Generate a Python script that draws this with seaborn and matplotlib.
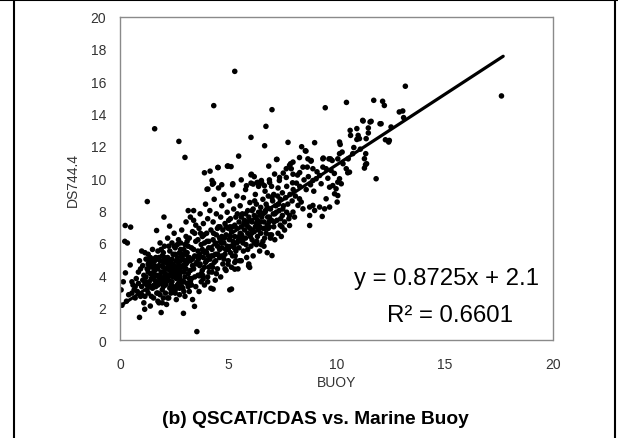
import numpy as np
import pandas as pd
import seaborn as sns
import matplotlib.pyplot as plt
from matplotlib.lines import Line2D

sns.set_theme(style="white")
plt.rcParams["font.family"] = ["Liberation Sans", "DejaVu Sans"]

# ---------------- data ----------------
# region A : BUOY 0 - 3.5
buoy_a = [0.05, 0.09, 0.22, 0.34, 0.24, 0.49, 0.25, 0.47, 0.15, 0.30,
          0.55, 0.60, 0.70, 0.75, 0.80, 0.85, 0.90, 0.95, 0.65, 0.40,
          1.0, 1.05, 1.1, 1.14, 1.2, 1.2, 1.25, 1.26, 1.3, 1.3,
          1.35, 1.4, 1.4, 1.45, 1.5, 1.5, 1.55, 1.6, 1.6, 1.6,
          1.65, 1.69, 1.7, 1.7, 1.75, 1.75, 1.8, 1.8, 1.85, 1.85,
          1.9, 1.9, 1.95, 1.95, 2.0, 2.0, 2.03, 2.05, 2.05, 2.1,
          2.1, 2.15, 2.15, 2.2, 2.2, 2.25, 2.29, 2.3, 2.3, 2.35,
          2.35, 2.4, 2.4, 2.45, 2.45, 2.5, 2.5, 2.5, 2.55, 2.55,
          2.6, 2.6, 2.65, 2.65, 2.7, 2.7, 2.72, 2.75, 2.75, 2.8,
          2.8, 2.85, 2.85, 2.9, 2.9, 2.93, 2.95, 3.0, 3.0, 3.0,
          3.05, 3.05, 3.1, 3.1, 3.15, 3.15, 3.2, 3.2, 3.25, 3.25,
          3.3, 3.3, 3.35, 3.35, 3.4, 3.4, 3.44, 3.45, 3.5, 3.5,
          3.55, 3.5,
          1.1, 1.15, 1.3, 1.4, 1.5, 1.55, 1.6, 1.7, 1.75, 1.8,
          1.85, 1.9, 1.95, 2.0, 2.0, 2.1, 2.1, 2.2, 2.2, 2.25,
          2.3, 2.35, 2.4, 2.45, 2.5, 2.55, 2.6, 2.6, 2.7, 2.7,
          2.75, 2.8, 2.85, 2.9, 2.95, 3.0, 3.0, 3.1, 3.15, 3.2,
          0.55, 0.7, 0.85, 1.0, 1.15, 1.25, 1.35, 1.45, 1.55, 1.65,
          1.75, 1.85, 1.95, 2.05, 2.15, 2.25, 2.35, 2.45, 2.55, 2.65,
          2.75, 2.85, 2.95, 3.05, 3.15, 3.25, 3.35, 3.45, 1.0, 0.9]
ds_a = [3.1, 2.15, 6.1, 6.0, 7.08, 6.98, 4.15, 4.64, 3.6, 2.4,
        2.9, 3.4, 2.6, 3.8, 3.0, 4.2, 1.4, 2.7, 3.1, 2.8,
        3.3, 4.6, 2.3, 1.9, 3.9, 5.0, 4.4, 8.56, 2.9, 5.3,
        3.6, 4.1, 2.1, 4.8, 3.2, 5.6, 2.6, 13.06, 4.3, 3.7,
        5.1, 6.77, 2.9, 4.0, 3.4, 5.5, 4.6, 2.3, 3.8, 6.0,
        4.2, 1.7, 5.2, 3.1, 4.5, 2.6, 7.6, 3.9, 5.8, 4.1,
        3.4, 5.0, 2.2, 4.7, 6.3, 3.7, 7.04, 4.3, 5.5, 2.9,
        4.9, 3.6, 6.0, 4.2, 5.3, 3.0, 4.6, 6.6, 3.9, 5.7,
        4.4, 2.5, 5.1, 3.4, 4.8, 6.2, 12.28, 4.0, 2.8, 5.6,
        3.7, 4.5, 6.8, 3.2, 5.0, 1.65, 4.2, 11.29, 5.9, 2.7,
        4.7, 7.3, 3.5, 5.4, 8.0, 4.1, 6.3, 3.0, 4.9, 7.6,
        3.8, 5.7, 2.5, 6.7, 4.4, 8.0, 2.08, 5.2, 3.3, 6.1,
        0.52, 7.1,
        4.0, 3.5, 4.7, 3.3, 4.5, 3.9, 4.9, 3.6, 4.4, 5.1,
        2.8, 3.5, 4.6, 3.3, 5.4, 2.9, 4.8, 3.9, 5.1, 4.5,
        3.2, 4.0, 5.0, 3.3, 4.1, 5.3, 3.8, 4.9, 3.5, 4.3,
        5.4, 4.2, 3.3, 4.6, 5.6, 3.9, 4.4, 4.8, 3.3, 5.1,
        3.6, 3.3, 3.5, 2.8, 2.7, 3.4, 4.5, 3.8, 4.2, 3.3,
        2.4, 4.9, 2.3, 3.6, 4.4, 2.6, 3.4, 4.7, 3.1, 4.0,
        3.2, 5.2, 3.6, 6.4, 5.8, 4.3, 4.6, 6.6, 5.5, 4.9]

# dense core of region A
buoy_core_a = [0.95, 1.05, 1.15, 1.25, 1.35, 1.45, 1.55, 1.65, 1.75, 1.85,
               1.95, 2.05, 2.15, 2.25, 2.35, 2.45, 2.55, 2.65, 2.75, 2.85,
               2.95, 3.05, 3.15, 3.25, 3.35, 3.45, 3.55, 1.2, 1.4, 1.6,
               1.8, 2.0, 2.2, 2.4, 2.6, 2.8, 3.0, 3.2, 3.4, 3.6,
               1.3, 1.5, 1.7, 1.9, 2.1, 2.3, 2.5, 2.7, 2.9, 3.1,
               3.3, 3.5, 2.0, 2.4, 2.8, 1.6, 2.2, 2.6, 3.0, 3.4]
ds_core_a = [4.4, 3.7, 5.4, 3.1, 4.9, 2.7, 5.0, 4.5, 2.9, 4.0,
             3.8, 5.1, 3.6, 5.8, 4.5, 3.9, 2.9, 5.9, 3.8, 5.3,
             3.0, 4.4, 5.1, 3.6, 5.0, 3.9, 4.8, 3.6, 5.1, 3.4,
             3.9, 4.9, 2.6, 4.4, 3.3, 6.0, 4.9, 3.8, 5.6, 5.2,
             4.2, 4.0, 5.0, 5.6, 3.8, 4.8, 5.8, 4.6, 3.6, 6.1,
             3.4, 4.7, 4.2, 3.1, 4.9, 4.6, 4.4, 4.3, 5.3, 7.4]

# region B : BUOY 3.5 - 7
buoy_b = [3.6, 3.6, 3.65, 3.65, 3.7, 3.7, 3.75, 3.75, 3.8, 3.8,
          3.85, 3.85, 3.9, 3.9, 3.95, 3.95, 4.0, 4.0, 4.05, 4.05,
          4.1, 4.1, 4.15, 4.15, 4.2, 4.2, 4.25, 4.25, 4.3, 4.3,
          4.35, 4.35, 4.4, 4.4, 4.45, 4.45, 4.5, 4.5, 4.55, 4.55,
          4.6, 4.6, 4.65, 4.65, 4.7, 4.7, 4.75, 4.75, 4.8, 4.8,
          4.85, 4.85, 4.9, 4.9, 4.95, 4.95, 5.0, 5.0, 5.05, 5.05,
          5.1, 5.1, 5.15, 5.15, 5.2, 5.2, 5.25, 5.25, 5.3, 5.3,
          5.35, 5.35, 5.4, 5.4, 5.45, 5.45, 5.5, 5.5, 5.55, 5.55,
          5.6, 5.6, 5.65, 5.65, 5.7, 5.7, 5.75, 5.75, 5.8, 5.8,
          5.85, 5.85, 5.9, 5.9, 5.95, 5.95, 6.0, 6.0, 6.05, 6.05,
          6.1, 6.1, 6.15, 6.15, 6.2, 6.2, 6.25, 6.25, 6.3, 6.3,
          6.35, 6.35, 6.4, 6.4, 6.45, 6.45, 6.5, 6.5, 6.55, 6.55,
          6.6, 6.6, 6.65, 6.65, 6.7, 6.7, 6.75, 6.75, 6.8, 6.8,
          6.85, 6.85, 6.9, 6.9, 6.95, 6.95, 7.0, 7.0, 7.02, 5.94,
          3.6, 3.7, 3.8, 3.9, 4.0, 4.1, 4.2, 4.3, 4.4, 4.5,
          4.6, 4.7, 4.8, 4.9, 5.0, 5.1, 5.2, 5.3, 5.4, 5.5,
          5.6, 5.7, 5.8, 5.9, 6.0, 6.1, 6.2, 6.3, 6.4, 6.5,
          6.6, 6.7, 6.8, 6.9, 7.0, 3.75, 4.05, 4.45, 4.85, 5.35,
          3.66, 4.3, 5.15, 3.84, 4.99, 5.3, 5.99]
ds_b = [4.0, 5.5, 6.9, 3.0, 4.7, 7.8, 5.9, 3.6, 6.4, 4.3,
        5.1, 7.2, 3.4, 6.0, 4.8, 8.4, 5.4, 6.6, 3.9, 7.5,
        4.5, 6.1, 5.0, 8.0, 3.2, 6.8, 5.6, 4.2, 7.3, 6.2,
        4.8, 8.7, 5.3, 3.7, 6.5, 7.8, 4.4, 5.8, 7.0, 9.4,
        5.1, 6.3, 3.9, 7.6, 5.7, 8.3, 4.7, 6.8, 6.0, 9.0,
        5.3, 7.2, 4.3, 6.5, 5.8, 7.9, 6.9, 4.9, 8.6, 6.2,
        5.4, 7.5, 4.5, 6.7, 7.0, 9.6, 5.9, 8.1, 6.4, 4.8,
        7.6, 5.5, 6.9, 8.9, 6.1, 4.4, 7.3, 5.7, 8.3, 6.6,
        7.0, 4.9, 7.8, 6.1, 5.5, 8.8, 6.8, 7.4, 6.3, 9.3,
        5.1, 7.1, 8.0, 6.6, 7.6, 4.7, 6.9, 8.5, 5.8, 9.7,
        7.3, 6.2, 8.1, 5.2, 7.7, 6.7, 9.0, 7.0, 5.9, 8.4,
        7.4, 6.4, 9.5, 7.9, 5.5, 7.0, 8.2, 6.6, 7.6, 9.7,
        6.1, 8.7, 7.3, 5.8, 7.9, 9.2, 6.6, 8.4, 7.1, 5.4,
        8.9, 6.9, 7.6, 9.9, 6.3, 8.1, 7.4, 9.5, 5.22, 4.58,
        6.2, 5.2, 5.6, 4.5, 4.9, 5.7, 4.6, 5.2, 6.0, 6.9,
        5.6, 6.4, 5.0, 7.0, 5.6, 6.4, 5.2, 7.1, 6.0, 6.4,
        7.6, 6.3, 7.8, 5.6, 7.4, 8.0, 6.0, 7.2, 6.8, 7.3,
        7.8, 6.9, 8.2, 7.0, 6.5, 4.1, 3.6, 4.1, 4.4, 4.9,
        3.97, 3.15, 3.15, 3.77, 4.69, 4.38, 4.49]

# dense core of region B
buoy_core_b = [3.62, 3.72, 3.82, 3.92, 4.02, 4.12, 4.22, 4.32, 4.42, 4.52,
               4.62, 4.72, 4.82, 4.92, 5.02, 5.12, 5.22, 5.32, 5.42, 5.52,
               5.62, 5.72, 5.82, 5.92, 6.02, 6.12, 6.22, 6.32, 6.42, 6.52,
               6.62, 6.72, 6.82, 6.92, 7.02, 7.12, 7.22, 7.32, 7.42, 7.52,
               3.68, 3.88, 4.08, 4.28, 4.48, 4.68, 4.88, 5.08, 5.28, 5.48,
               5.68, 5.88, 6.08, 6.28, 6.48, 6.68, 6.88, 7.08, 7.28, 7.48]
ds_core_b = [5.0, 6.6, 4.0, 5.4, 6.1, 4.2, 5.2, 6.6, 4.9, 5.3,
             7.0, 5.2, 6.3, 5.6, 7.4, 5.8, 6.1, 5.2, 7.8, 4.9,
             6.5, 7.2, 5.9, 7.0, 6.4, 6.8, 8.6, 6.1, 7.0, 5.9,
             6.9, 8.0, 7.6, 6.5, 8.8, 7.3, 7.9, 8.4, 7.5, 8.1,
             4.6, 6.5, 5.2, 4.5, 5.3, 6.0, 5.6, 7.0, 5.7, 6.2,
             6.0, 7.3, 6.6, 7.6, 7.9, 6.3, 7.3, 7.8, 8.9, 7.0]

# upper band and outliers around BUOY 4 - 8
buoy_upper = [3.90, 4.16, 4.06, 4.25, 4.32, 4.33, 4.52, 4.96, 5.13, 5.21,
              5.30, 5.48, 6.05, 6.05, 6.68, 6.74, 6.87, 7.02, 5.07, 6.33,
              5.84, 6.53, 6.67, 7.14, 6.2, 5.6, 4.7,
              6.15, 6.38, 6.91, 7.37, 7.68, 7.99, 8.3, 7.25, 7.83, 8.29,
              6.07, 4.53, 4.02, 4.27, 4.99]
ds_upper = [10.34, 10.44, 9.33, 9.86, 9.70, 14.49, 10.67, 10.75, 10.72, 9.66,
            16.61, 11.37, 12.53, 10.21, 12.01, 13.21, 10.75, 14.24, 3.1, 9.74,
            9.54, 9.86, 9.54, 10.26, 10.1, 9.9, 9.6,
            9.64, 9.74, 9.74, 10.05, 10.05, 10.25, 10.35, 11.17, 10.8, 11.28,
            10.25, 10.66, 9.32, 9.63, 10.76]

# region C : BUOY 7 - 10
buoy_c = [7.05, 7.1, 7.1, 7.15, 7.15, 7.2, 7.23, 7.25, 7.3, 7.3,
          7.35, 7.36, 7.4, 7.4, 7.45, 7.5, 7.5, 7.54, 7.55, 7.6,
          7.6, 7.65, 7.68, 7.7, 7.7, 7.75, 7.76, 7.8, 7.83, 7.83,
          7.85, 7.88, 7.91, 7.95, 7.97, 7.99, 7.99, 8.0, 8.06, 8.1,
          8.15, 8.2, 8.22, 8.29, 8.3, 8.37, 8.39, 8.45, 8.45, 8.5,
          8.56, 8.59, 8.6, 8.65, 8.68, 8.7, 8.76, 8.76, 8.76, 8.8,
          8.82, 8.83, 8.91, 8.91, 8.91, 8.95, 8.99, 8.99, 9.06, 9.1,
          9.22, 9.22, 9.29, 9.34, 9.37, 9.37, 9.39, 9.45, 9.48, 9.52,
          9.52, 9.6, 9.65, 9.68, 9.68, 9.72, 9.75, 9.8, 9.83, 9.9,
          9.91, 9.98, 10.03]
ds_c = [8.6, 7.0, 9.0, 7.8, 6.2, 8.3, 11.16, 7.4, 9.4, 6.6,
        8.0, 9.86, 7.1, 8.7, 6.4, 7.7, 9.1, 10.32, 8.3, 7.3,
        6.8, 8.8, 10.59, 7.9, 9.5, 8.4, 12.22, 7.5, 7.7, 7.08,
        9.0, 10.9, 10.59, 8.6, 9.72, 11.0, 7.91, 9.3, 7.6, 8.9,
        9.7, 10.2, 8.32, 8.73, 9.5, 8.53, 11.95, 8.11, 10.69, 9.9,
        11.7, 11.68, 9.3, 10.69, 11.2, 10.1, 7.08, 8.22, 7.7, 9.6,
        11.06, 11.1, 10.59, 9.86, 8.32, 9.2, 8.01, 12.2, 9.97, 10.4,
        10.17, 8.22, 9.66, 7.64, 11.2, 10.69, 11.25, 8.11, 14.36, 10.59,
        8.73, 10.0, 11.2, 8.22, 9.45, 11.2, 10.48, 11.1, 9.55, 10.3,
        9.04, 9.35, 8.53]

# region D : BUOY above 10
buoy_d = [10.06, 10.06, 10.06, 10.14, 10.14, 10.17, 10.14, 10.22, 10.26, 10.3,
          10.45, 10.46, 10.52, 10.54, 10.6, 10.63, 10.65, 10.75, 10.8, 10.94,
          10.94, 11.0, 11.06, 11.1, 11.21, 11.23, 11.29, 11.29, 11.34, 11.39,
          11.35, 11.37, 11.47, 11.47, 11.55, 11.6, 11.72, 11.83, 12.01, 12.06,
          12.13, 12.21, 12.26, 12.41, 12.44, 12.52, 12.9, 13.06, 13.1, 13.18,
          17.62]
ds_d = [11.2, 9.76, 8.93, 11.52, 12.24, 12.09, 9.97, 9.66, 11.62, 10.9,
        10.59, 14.69, 10.34, 11.2, 10.38, 12.96, 12.65, 11.52, 11.9, 13.07,
        12.4, 12.65, 12.45, 11.8, 13.58, 13.54, 11.21, 10.63, 10.84, 10.9,
        11.52, 12.45, 13.11, 12.8, 13.48, 13.52, 14.82, 9.97, 13.37, 13.37,
        14.76, 14.5, 12.38, 12.24, 12.34, 13.17, 14.1, 14.16, 13.75, 15.69,
        15.09]

# regression shown on the chart
fit_slope = 0.8725
fit_intercept = 2.1
fit_r2 = 0.6601
fit_x_range = [0.0, 17.7]

x_ticks = [0, 5, 10, 15, 20]
y_ticks = [0, 2, 4, 6, 8, 10, 12, 14, 16, 18, 20]

title_text = "(b) QSCAT/CDAS vs. Marine Buoy"
x_label = "BUOY"
y_label = "DS744.4"

# ---------------- build table ----------------
buoy = buoy_a + buoy_core_a + buoy_b + buoy_core_b + buoy_upper + buoy_c + buoy_d
ds = ds_a + ds_core_a + ds_b + ds_core_b + ds_upper + ds_c + ds_d
df = pd.DataFrame({"BUOY": buoy, "DS": ds})

fig = plt.figure(figsize=(6.18, 4.39), dpi=100)
fig.patch.set_facecolor("white")
ax = fig.add_axes([0.1942, 0.2232, 0.7006, 0.7369])
ax.set_facecolor("white")

sns.scatterplot(data=df, x="BUOY", y="DS", ax=ax, color="black",
                s=16, linewidth=0, edgecolor="none", legend=False)

fx = np.array(fit_x_range)
sns.lineplot(x=fx, y=fit_slope * fx + fit_intercept, ax=ax,
             color="black", linewidth=2.3)

ax.set_xlim(0, 20)
ax.set_ylim(0, 20)
ax.set_xticks(x_ticks)
ax.set_yticks(y_ticks)
ax.tick_params(axis="both", direction="in", length=3, width=0.6,
               color="#888888", labelsize=10, labelcolor="#333333")
ax.tick_params(axis="y", pad=10)
ax.tick_params(axis="x", pad=12)

for sp in ax.spines.values():
    sp.set_color("#8a8a8a")
    sp.set_linewidth(1.0)
    sp.set_linestyle((0, (1.5, 1)))
    sp.set_visible(True)

ax.set_xlabel(x_label, fontsize=10, color="#333333")
ax.set_ylabel(y_label, fontsize=10, color="#333333")
ax.xaxis.set_label_coords(0.501, -0.108)
ax.yaxis.set_label_coords(-0.092, 0.498)

ax.text(15.09, 3.46, f"y = {fit_slope}x + {fit_intercept}",
        ha="center", va="baseline", fontsize=17.3, color="black")
ax.text(15.25, 1.17, f"R\u00b2 = {fit_r2}",
        ha="center", va="baseline", fontsize=17.3, color="black")

fig.text(0.5105, 0.0433, title_text, ha="center", va="center",
         fontsize=13.8, fontweight="bold", color="black")

# outer frame lines of the figure panel
fig.add_artist(Line2D([14 / 618, 14 / 618], [0, 1], transform=fig.transFigure,
                      color="black", linewidth=1.5))
fig.add_artist(Line2D([0, 1], [1 - 1 / 439, 1 - 1 / 439], transform=fig.transFigure,
                      color="black", linewidth=1.5))
fig.add_artist(Line2D([615 / 618, 615 / 618], [0, 1], transform=fig.transFigure,
                      color="black", linewidth=1.5))

fig.savefig("out.png", dpi=100)
